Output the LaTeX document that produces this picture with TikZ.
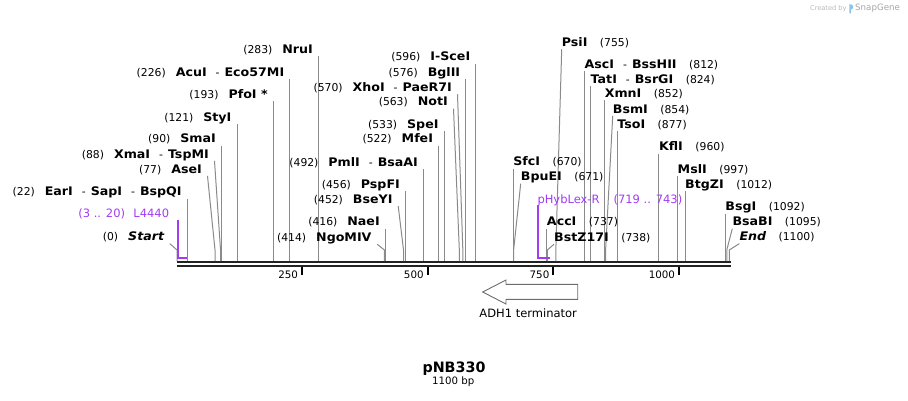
\documentclass[tikz,border=0pt]{standalone}
\usepackage{fontspec}
\setmainfont{DejaVu Sans}
\newfontfamily\enzfam[FakeStretch=1.07]{DejaVu Sans}
\definecolor{sitegray}{HTML}{8A8A8A}
\definecolor{featpurple}{HTML}{A23BF2}
\definecolor{bbone}{HTML}{222222}
\definecolor{logoblue}{HTML}{8CC3EC}
\newcommand\numf{\normalfont\fontsize{10.8}{12}\selectfont}
\newcommand\enzf{\enzfam\fontsize{11.8}{13}\selectfont\bfseries}
\newcommand\featf{\fontsize{11.5}{13}\selectfont\mdseries}
\newcommand\dsh{\hspace{9pt}{\numf-}\hspace{5pt}}
\tikzset{
  leftlab/.style={anchor=east, inner ysep=0pt, inner xsep=5.5pt, text height=8pt, text depth=2.5pt},
  rightlab/.style={anchor=west, inner sep=0pt, text height=8pt, text depth=2.5pt},
  sline/.style={draw=sitegray, line width=1pt},
  featline/.style={draw=featpurple, line width=2pt},
  backbone/.style={draw=bbone, line width=2.5pt},
  tickmark/.style={draw=black, line width=1.8pt},
  ticklab/.style={anchor=east, inner sep=0pt, font=\fontsize{10.3}{12}\selectfont},
}
% left label, vertical line: id, number, name, y, bp
\newcommand\LV[5]{%
  \node[leftlab] (#1) at ({176.3+0.5027*#5},{#4+1.5}) {\numf(#2)\hspace{10pt}\enzf #3};
  \coordinate (#1k) at ({176.3+0.5027*#5},250);
  \coordinate (#1s) at ({176.3+0.5027*#5},261);
  \draw[sline] (#1.south east) -- (#1k) -- (#1s);}
% left label, slanted line: id, number, name, line x, y, bp
\newcommand\LS[6]{%
  \node[leftlab] (#1) at ({#4},{#5+1.5}) {\numf(#2)\hspace{10pt}\enzf #3};
  \coordinate (#1k) at ({176.3+0.5027*#6},250);
  \coordinate (#1s) at ({176.3+0.5027*#6},261);
  \draw[sline] (#1.south east) -- (#1k) -- (#1s);}
% right label, vertical line: id, number, name, y, bp
\newcommand\RV[5]{%
  \node[rightlab] (#1) at ({176.3+0.5027*#5},{#4+1.5}) {\enzf #3\hspace{12.5pt}\numf(#2)};
  \coordinate (#1k) at ({176.3+0.5027*#5},250);
  \coordinate (#1s) at ({176.3+0.5027*#5},261);
  \draw[sline] (#1.south west) -- (#1k) -- (#1s);}
% right label, slanted line: id, number, name, line x, y, bp
\newcommand\RS[6]{%
  \node[rightlab] (#1) at ({#4},{#5+1.5}) {\enzf #3\hspace{12.5pt}\numf(#2)};
  \coordinate (#1k) at ({176.3+0.5027*#6},250);
  \coordinate (#1s) at ({176.3+0.5027*#6},261);
  \draw[sline] (#1.south west) -- (#1k) -- (#1s);}
\begin{document}
\begin{tikzpicture}[x=1pt,y=-1pt]
\useasboundingbox (0,0) rectangle (908,400);

% backbone
\coordinate (bbL) at (176.7,262);
\coordinate (bbR) at (731,262);
\coordinate (bbL2) at (176.7,266);
\coordinate (bbR2) at (731,266);
\draw[backbone] (bbL) -- (bbR);
\draw[backbone] (bbL2) -- (bbR2);

% ticks
\foreach \t/\lab in {250/250,500/500,750/750,1000/1000}{
  \coordinate (tk\t a) at ({176.3+0.5027*\t},266.5);
  \coordinate (tk\t b) at ({176.3+0.5027*\t},275);
  \draw[tickmark] (tk\t a) -- (tk\t b);
  \node[ticklab] (tl\t) at ({176.3+0.5027*\t-3.8},274.5) {\lab};
}

% left-side sites
\LV{nru}{283}{NruI}{49.3}{283}
\LV{acu}{226}{AcuI\dsh Eco57MI}{72.3}{226}
\LV{pfo}{193}{PfoI *}{94}{193}
\LV{sty}{121}{StyI}{117.3}{121}
\LV{sma}{90}{SmaI}{138.7}{90}
\LS{xma}{88}{XmaI\dsh TspMI}{214.5}{154}{88}
\LS{ase}{77}{AseI}{207.5}{169}{77}
\LV{ear}{22}{EarI\dsh SapI\dsh BspQI}{191.7}{22}
\LS{start}{0}{\itshape Start}{169.8}{236.7}{1.5}

\LV{isce}{596}{I-SceI}{56.7}{596}
\LV{bgl}{576}{BglII}{72.3}{576}
\LS{xho}{570}{XhoI\dsh PaeR7I}{457.5}{87.3}{570}
\LS{notI}{563}{NotI}{453.5}{101.7}{563}
\LV{spe}{533}{SpeI}{124.3}{533}
\LV{mfe}{522}{MfeI}{138.7}{522}
\LV{pml}{492}{PmlI\dsh BsaAI}{162.3}{492}
\LV{psp}{456}{PspFI}{184}{456}
\LS{bse}{452}{BseYI}{398.2}{199}{452}
\LV{nae}{416}{NaeI}{221.7}{416}
\LS{ngo}{414}{NgoMIV}{377.2}{237.3}{414}

% right-side sites
\RS{psi}{755}{PsiI}{561.7}{42.3}{755}
\RV{asc}{812}{AscI\dsh BssHII}{64}{812}
\RV{tat}{824}{TatI\dsh BsrGI}{79}{824}
\RV{xmn}{852}{XmnI}{93.3}{852}
\RS{bsm}{854}{BsmI}{612.7}{109}{854}
\RV{tso}{877}{TsoI}{124}{877}
\RV{kfl}{960}{KflI}{146.7}{960}
\RV{msl}{997}{MslI}{169}{997}
\RV{btg}{1012}{BtgZI}{184}{1012}
\RV{bsg}{1092}{BsgI}{206.7}{1092}
\RS{bsab}{1095}{BsaBI}{732.3}{221.7}{1095}
\RS{endd}{1100}{\itshape End}{739.3}{236.7}{1100}
\RV{sfc}{670}{SfcI}{161.7}{670}
\RS{bpu}{671}{BpuEI}{520.7}{176.7}{671}
\RV{acc}{737}{AccI}{221.7}{737}
\RS{bstz}{738}{BstZ17I}{554}{237.3}{738}

% features
\node[leftlab, inner xsep=0pt, text=featpurple] (l4440) at (169.3,214.8) {\featf(3 .. 20)\hspace{8.3pt}L4440};
\coordinate (l4a) at (178.3,220);
\coordinate (l4b) at (178.3,257.7);
\coordinate (l4c) at (186.7,257.7);
\draw[featline] (l4a) -- (l4b) -- (l4c);

\node[rightlab, text=featpurple] (phyb) at (537.3,200.5) {\featf pHybLex-R\hspace{14pt}(719 .. 743)};
\coordinate (pha) at (537.7,205);
\coordinate (phb) at (537.7,257.7);
\coordinate (phc) at (549.8,257.7);
\draw[featline] (pha) -- (phb) -- (phc);

% ADH1 terminator arrow
\draw[draw=gray!85!black, line width=0.9pt, fill=white]
  (577.7,284.3) -- (506,284.3) -- (506,280) -- (482.7,292) -- (506,304) -- (506,299.3) -- (577.7,299.3) -- cycle;
\node[inner sep=0pt, font=\fontsize{11.5}{13}\selectfont] (adh) at (528.2,313.5) {ADH1 terminator};

% title
\node[inner sep=0pt, font=\fontsize{14.3}{16}\selectfont\bfseries] (title) at (454,369) {pNB330};
\node[inner sep=0pt, font=\fontsize{10.2}{12}\selectfont] (size) at (453.3,382) {1100 bp};

% credit
\node[anchor=west, inner sep=0pt, text=gray!55, font=\fontsize{6.6}{7}\selectfont] (cb) at (810,8.3) {Created by};
\fill[logoblue] (849.3,13.3) -- (849.3,4.2) .. controls (853.5,3.6) and (855,8.5) .. (851.2,9.5) -- (851.2,13.3) -- cycle;
\node[anchor=west, inner sep=0pt, text=gray!70, font=\fontsize{8.7}{9}\selectfont] (sg) at (855,8.3) {SnapGene};
\end{tikzpicture}
\end{document}
